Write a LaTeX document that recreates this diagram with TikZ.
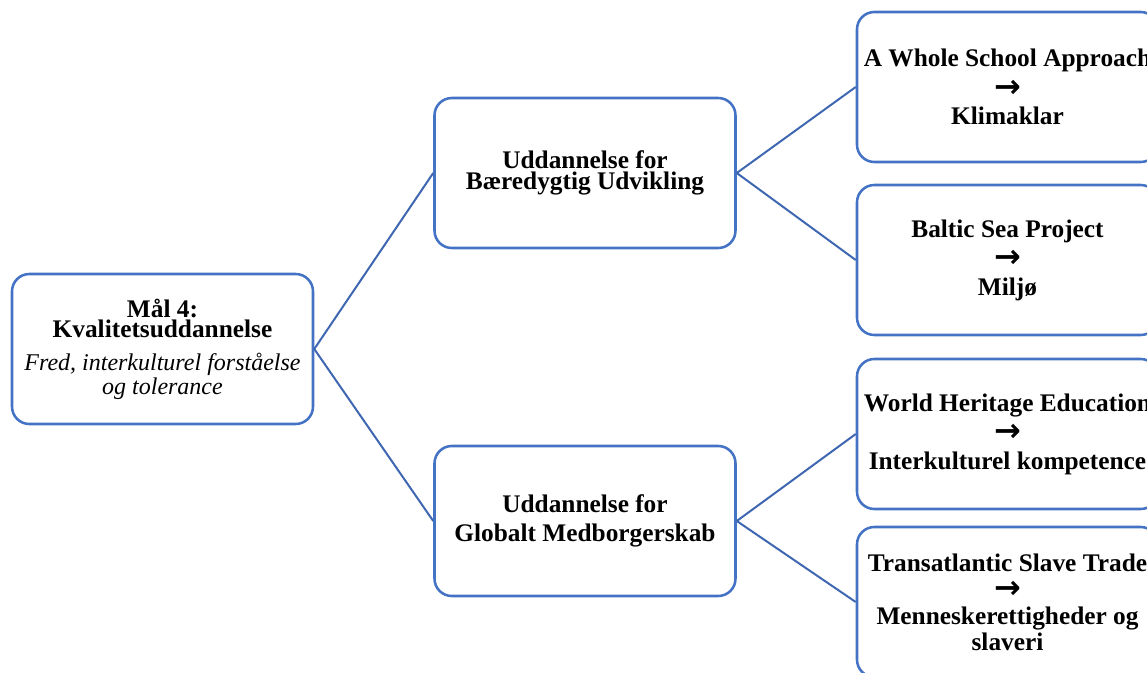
\documentclass[tikz,border=0pt]{standalone}
\usepackage{fontspec}
\setmainfont{Liberation Serif}
\newfontfamily\arrowfont{DejaVu Sans}
\usetikzlibrary{positioning}
\definecolor{boxblue}{HTML}{4472C4}
\definecolor{linkblue}{HTML}{3F67B1}
\newcommand{\arr}{{\arrowfont\bfseries\fontsize{24}{13.7}\selectfont →}}
\begin{document}
\begin{tikzpicture}[x=0.75pt,y=-0.75pt]
\tikzset{box/.style={draw=boxblue,line width=1.9pt,rounded corners=13pt,fill=white,
  minimum width=225.75pt,minimum height=112.5pt,align=center,inner sep=2pt,
  font=\fontsize{19}{15.4}\selectfont\bfseries},
  link/.style={draw=linkblue,line width=1.5pt}}
\useasboundingbox (0,0) rectangle (1147,672);
\node (goal) at (162.5,349) [box] {Mål 4:\\Kvalitetsuddannelse\\[9pt]
  {\mdseries\itshape\fontsize{18}{15.4}\selectfont Fred, interkulturel forståelse}\\[0.5pt]
  {\mdseries\itshape\fontsize{18}{15.4}\selectfont og tolerance}};
\node (bu) at (585,173) [box] {Uddannelse for\\Bæredygtig Udvikling};
\node (gm) at (585,521) [box] {Uddannelse for\\[6.6pt]Globalt Medborgerskab};
\node (wsa) at (1007.5,87) [box] {A Whole School Approach\\[5pt]\arr\\[5pt]Klimaklar};
\node (bsp) at (1007.5,260) [box] {Baltic Sea Project\\[5pt]\arr\\[5pt]Miljø};
\node (whe) at (1007.5,434) [box] {World Heritage Education\\[5pt]\arr\\[5pt]Interkulturel kompetence};
\node (tst) at (1007.5,602) [box] {Transatlantic Slave Trade\\[5pt]\arr\\[4pt]Menneskerettigheder og\\[1pt]slaveri};
\draw[link] (goal.east) -- (bu.west) (goal.east) -- (gm.west);
\draw[link] (bu.east) -- (wsa.west) (bu.east) -- (bsp.west);
\draw[link] (gm.east) -- (whe.west) (gm.east) -- (tst.west);
\end{tikzpicture}
\end{document}
